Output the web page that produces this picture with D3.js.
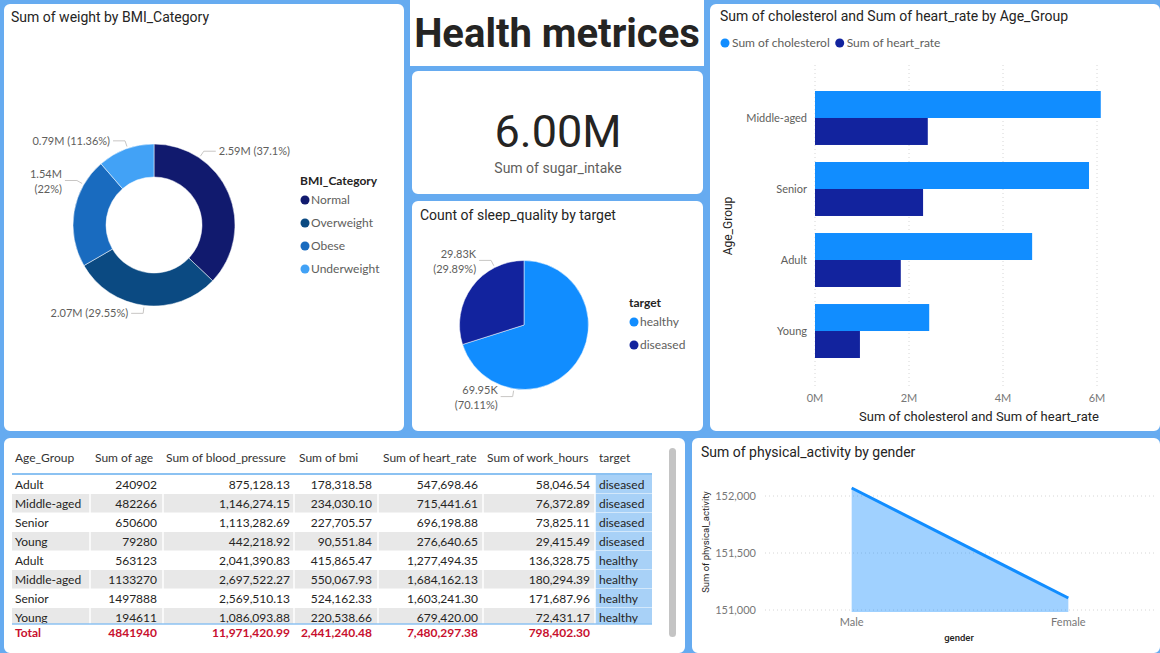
<!DOCTYPE html>
<html>
<head>
<meta charset="utf-8">
<script src="https://cdn.jsdelivr.net/npm/d3@7"></script>
<style>
  body { margin: 0; background: #0d2a4f; }
  svg { display: block; }
  text { font-family: Lato, "Noto Sans", sans-serif; }
  .title { font-family: Roboto, "Noto Sans", sans-serif; font-size: 14px; fill: #252423; }
</style>
</head>
<body>
<svg id="dash" width="1160" height="653"></svg>
<script>
"use strict";

// ---- data ----
const bmiCategories = ["Normal", "Overweight", "Obese", "Underweight"];
const bmiWeight = [2593500, 2065600, 1538000, 794100];

const targets = ["healthy", "diseased"];
const sleepCount = [69954, 29826];

const sugarIntake = 6.0e6;

const ageGroups = ["Middle-aged", "Senior", "Adult", "Young"];
const cholesterol = [6.08e6, 5.83e6, 4.62e6, 2.43e6];

const genders = ["Male", "Female"];
const physicalActivity = [152070, 151105];

const tableHeaders = ["Age_Group", "Sum of age", "Sum of blood_pressure", "Sum of bmi",
  "Sum of heart_rate", "Sum of work_hours", "target"];
const rowAgeGroup = ["Adult", "Middle-aged", "Senior", "Young", "Adult", "Middle-aged", "Senior", "Young"];
const rowAge = [240902, 482266, 650600, 79280, 563123, 1133270, 1497888, 194611];
const rowBloodPressure = [875128.13, 1146274.15, 1113282.69, 442218.92, 2041390.83, 2697522.27, 2569510.13, 1086093.88];
const rowBmi = [178318.58, 234030.10, 227705.57, 90551.84, 415865.47, 550067.93, 524162.33, 220538.66];
const rowHeartRate = [547698.46, 715441.61, 696198.88, 276640.65, 1277494.35, 1684162.13, 1603241.30, 679420.00];
const rowWorkHours = [58046.54, 76372.89, 73825.11, 29415.49, 136328.75, 180294.39, 171687.96, 72431.17];
const rowTarget = ["diseased", "diseased", "diseased", "diseased", "healthy", "healthy", "healthy", "healthy"];
const tableTotals = [4841940, 11971420.99, 2441240.48, 7480297.38, 798402.30];

// ---- styling ----
const bmiColors = ["#111a6e", "#0b4a82", "#196bbf", "#42a2f6"];
const targetColors = ["#118dff", "#12239e"];
const panelStroke = "#66abf0";
const labelGray = "#605e5c";
const leaderGray = "#c8c6c4";

const svg = d3.select("#dash");
svg.append("rect").attr("width", 1160).attr("height", 653).attr("fill", panelStroke);

function panel(x0, y0, x1, y1, stroke = true) {
  svg.append("rect")
    .attr("x", x0 + 2).attr("y", y0 + 2)
    .attr("width", x1 - x0 - 4).attr("height", y1 - y0 - 4)
    .attr("rx", 8)
    .attr("fill", "#fff")
    .attr("stroke", stroke ? panelStroke : "none")
    .attr("stroke-width", 4);
}

panel(0, 0, 408, 435);
panel(408, 67, 707, 198);
panel(408, 197, 707, 435);
panel(706, 0, 1164, 435);
panel(0, 434, 689, 657);
panel(688, 434, 1164, 657);
// the title block has no border of its own
svg.append("rect").attr("x", 410).attr("y", 0).attr("width", 294).attr("height", 66).attr("fill", "#fff");

function title(x, y, txt) {
  svg.append("text").attr("class", "title").attr("x", x).attr("y", y)
    .attr("dy", "0.35em").text(txt);
}

// Draws outside labels with a little elbow leader line, wrapping in two
// lines when the text does not fit.
function sliceLabels(g, arcs, outerR, angles, values, fmtVal, leftLimit, maxWidth) {
  const total = d3.sum(values);
  arcs.forEach((d, i) => {
    const a = angles[i] * Math.PI / 180;
    const p0 = [Math.sin(a) * (outerR + 2), -Math.cos(a) * (outerR + 2)];
    const p1 = [Math.sin(a) * (outerR + 8), -Math.cos(a) * (outerR + 8)];
    const dir = Math.sin(a) >= 0 ? 1 : -1;
    const p2 = [p1[0] + dir * 12, p1[1]];
    g.append("polyline")
      .attr("points", [p0, p1, p2].map(p => p.join(",")).join(" "))
      .attr("fill", "none").attr("stroke", leaderGray).attr("stroke-width", 1);

    const pct = d3.format(".2f")(values[i] / total * 100).replace(/\.?0+$/, "");
    const valTxt = fmtVal(values[i]);
    const t = g.append("text")
      .attr("x", p2[0] + dir * 3).attr("y", p2[1])
      .attr("text-anchor", dir > 0 ? "start" : "end")
      .attr("font-size", 11).attr("fill", labelGray)
      .attr("dy", "0.35em")
      .text(`${valTxt} (${pct}%)`);
    const avail = dir > 0 ? Infinity : (p2[0] - 3) - leftLimit;
    if (t.node().getComputedTextLength() > Math.min(avail, maxWidth)) {
      t.text(null).attr("dy", null);
      t.append("tspan").attr("x", p2[0] + dir * 3).attr("dy", "-0.25em").text(valTxt);
      t.append("tspan").attr("x", p2[0] + dir * 3).attr("dy", "1.35em").text(`(${pct}%)`);
    }
  });
}

function legend(x, y, heading, names, colors, step) {
  svg.append("text").attr("x", x).attr("y", y).attr("dy", "0.35em")
    .attr("font-size", 12).attr("font-weight", 700).attr("fill", "#252423").text(heading);
  const items = svg.append("g").selectAll("g").data(names).join("g")
    .attr("transform", (d, i) => `translate(${x + 5},${y + 19 + i * step})`);
  items.append("circle").attr("r", 4.5).attr("fill", (d, i) => colors[i]);
  items.append("text").attr("x", 6).attr("dy", "0.35em")
    .attr("font-size", 12).attr("fill", labelGray).text(d => d);
}

// ---- donut: weight by BMI category ----
title(11, 17, "Sum of weight by BMI_Category");
const donutG = svg.append("g").attr("transform", "translate(154,225)");
const donutArcs = d3.pie().sort(null).value(d => d)(bmiWeight);
donutG.selectAll("path").data(donutArcs).join("path")
  .attr("d", d3.arc().innerRadius(48).outerRadius(81))
  .attr("fill", (d, i) => bmiColors[i])
  .attr("stroke", "#fff").attr("stroke-width", 0.5);
sliceLabels(donutG, donutArcs, 81, [34, 187, 300, 341], bmiWeight,
  v => d3.format(".2f")(v / 1e6) + "M", 8 - 154, 90);
legend(300, 181, "BMI_Category", bmiCategories, bmiColors, 23);

// ---- header title ----
svg.append("text").attr("x", 557).attr("y", 33).attr("dy", "0.35em")
  .attr("text-anchor", "middle")
  .style("font-family", "Roboto, sans-serif").attr("font-size", 40).attr("font-weight", 700)
  .attr("fill", "#252423").text("Health metrices");

// ---- KPI card ----
svg.append("text").attr("x", 558).attr("y", 147).attr("text-anchor", "middle")
  .style("font-family", "Roboto, sans-serif").attr("font-size", 45).attr("fill", "#252423")
  .text(d3.format(".2f")(sugarIntake / 1e6) + "M");
svg.append("text").attr("x", 558).attr("y", 168).attr("dy", "0.35em").attr("text-anchor", "middle")
  .style("font-family", "Roboto, sans-serif").attr("font-size", 14).attr("fill", labelGray)
  .text("Sum of sugar_intake");

// ---- pie: sleep quality by target ----
title(420, 215, "Count of sleep_quality by target");
const pieG = svg.append("g").attr("transform", "translate(524,325)");
const pieArcs = d3.pie().sort(null).value(d => d)(sleepCount);
pieG.selectAll("path").data(pieArcs).join("path")
  .attr("d", d3.arc().innerRadius(0).outerRadius(64.5))
  .attr("fill", (d, i) => targetColors[i])
  .attr("stroke", "#fff").attr("stroke-width", 0.5);
sliceLabels(pieG, pieArcs, 64.5, [189, 333], sleepCount,
  v => d3.format(".2f")(v / 1e3) + "K", 412 - 524, 70);
legend(629, 303, "target", targets, targetColors, 23);

// ---- clustered bars: cholesterol and heart rate by age group ----
title(720, 16, "Sum of cholesterol and Sum of heart_rate by Age_Group");
const heartByGroup = d3.rollup(rowAgeGroup.map((g, i) => [g, rowHeartRate[i]]),
  v => d3.sum(v, d => d[1]), d => d[0]);
const heartRate = ageGroups.map(g => heartByGroup.get(g));
const barSeries = ["Sum of cholesterol", "Sum of heart_rate"];
const barValues = [cholesterol, heartRate];

const barLegend = svg.append("g").attr("transform", "translate(725,43)");
let lx = 0;
barSeries.forEach((s, i) => {
  barLegend.append("circle").attr("cx", lx).attr("r", 4.5).attr("fill", targetColors[i]);
  const t = barLegend.append("text").attr("x", lx + 7).attr("dy", "0.35em")
    .attr("font-size", 12).attr("fill", labelGray).text(s);
  lx += 7 + t.node().getComputedTextLength() + 10;
});

const xBar = d3.scaleLinear().domain([0, 6e6]).range([815, 1097]);
const yBand = d3.scaleBand().domain(ageGroups).range([80, 369]).paddingInner(0.24).paddingOuter(0.155);
const ySub = d3.scaleBand().domain([0, 1]).range([0, yBand.bandwidth()]);

const barTicks = xBar.ticks(3);
svg.append("g").selectAll("line").data(barTicks).join("line")
  .attr("x1", d => xBar(d)).attr("x2", d => xBar(d))
  .attr("y1", 65).attr("y2", 388)
  .attr("stroke", "#d6d6d6").attr("stroke-dasharray", "1,3");
svg.append("g").selectAll("text").data(barTicks).join("text")
  .attr("x", d => xBar(d)).attr("y", 398).attr("dy", "0.35em").attr("text-anchor", "middle")
  .attr("font-size", 11).attr("fill", "#777").text(d => d / 1e6 + "M");

barValues.forEach((vals, s) => {
  svg.append("g").selectAll("rect").data(vals).join("rect")
    .attr("x", xBar(0))
    .attr("y", (d, i) => yBand(ageGroups[i]) + ySub(s))
    .attr("width", d => xBar(d) - xBar(0))
    .attr("height", ySub.bandwidth())
    .attr("fill", targetColors[s]);
});
svg.append("g").selectAll("text").data(ageGroups).join("text")
  .attr("x", 807).attr("y", d => yBand(d) + yBand.bandwidth() / 2).attr("dy", "0.35em")
  .attr("text-anchor", "end").attr("font-size", 11).attr("fill", labelGray).text(d => d);
svg.append("text").attr("transform", "translate(728,226) rotate(-90)")
  .attr("dy", "0.35em").attr("text-anchor", "middle")
  .style("font-family", "Roboto, sans-serif").attr("font-size", 12).attr("fill", "#252423")
  .text("Age_Group");
svg.append("text").attr("x", 979).attr("y", 416).attr("dy", "0.35em").attr("text-anchor", "middle")
  .style("font-family", "Roboto, sans-serif").attr("font-size", 13).attr("fill", "#252423")
  .text("Sum of cholesterol and Sum of heart_rate");

// ---- table ----
const fmtNum = d3.format(",.2f");
const columns = [
  { vals: rowAgeGroup, fmt: d => d, anchor: "start", x: 15, left: 12 },
  { vals: rowAge, fmt: d => d, anchor: "end", x: 157, left: 90 },
  { vals: rowBloodPressure, fmt: fmtNum, anchor: "end", x: 290, left: 163 },
  { vals: rowBmi, fmt: fmtNum, anchor: "end", x: 372, left: 294 },
  { vals: rowHeartRate, fmt: fmtNum, anchor: "end", x: 478, left: 378 },
  { vals: rowWorkHours, fmt: fmtNum, anchor: "end", x: 590, left: 483 },
  { vals: rowTarget, fmt: d => d, anchor: "start", x: 599, left: 595 }
];
const headerX = [15, 95, 166, 299, 383, 487, 599];
const tableRight = 652, rowTop = 475, rowH = 19;

svg.append("defs").append("clipPath").attr("id", "rowsClip")
  .append("rect").attr("x", 0).attr("y", rowTop).attr("width", 700).attr("height", 624 - rowTop);

svg.append("g").selectAll("text").data(tableHeaders).join("text")
  .attr("x", (d, i) => headerX[i]).attr("y", 458).attr("dy", "0.35em")
  .attr("font-size", 12).attr("fill", "#333").text(d => d);

const rowsG = svg.append("g").attr("clip-path", "url(#rowsClip)");
rowAgeGroup.forEach((g, r) => {
  const y = rowTop + r * rowH;
  rowsG.append("rect").attr("x", 12).attr("y", y).attr("width", tableRight - 12).attr("height", rowH)
    .attr("fill", r % 2 ? "#e8e8e8" : "#fff");
  rowsG.append("rect").attr("x", 595).attr("y", y).attr("width", tableRight - 595).attr("height", rowH)
    .attr("fill", "#a8d1f7");
  rowsG.append("line").attr("x1", 12).attr("x2", tableRight).attr("y1", y + rowH).attr("y2", y + rowH)
    .attr("stroke", "#fff").attr("stroke-width", 1);
  columns.forEach(c => {
    rowsG.append("text").attr("x", c.x).attr("y", y + rowH / 2).attr("dy", "0.35em")
      .attr("text-anchor", c.anchor).attr("font-size", 12).attr("fill", "#252423")
      .text(c.fmt(c.vals[r]));
  });
});
columns.slice(1).forEach(c => {
  rowsG.append("line").attr("x1", c.left).attr("x2", c.left).attr("y1", rowTop).attr("y2", 624)
    .attr("stroke", "#fff").attr("stroke-width", 1.5);
});
svg.append("line").attr("x1", 12).attr("x2", tableRight).attr("y1", 474).attr("y2", 474)
  .attr("stroke", "#8cc2f2").attr("stroke-width", 2);
svg.append("line").attr("x1", 12).attr("x2", tableRight).attr("y1", 624).attr("y2", 624)
  .attr("stroke", "#8cc2f2").attr("stroke-width", 1.5);

svg.append("text").attr("x", 15).attr("y", 633).attr("dy", "0.35em")
  .attr("font-size", 12).attr("font-weight", 700).attr("fill", "#c8102e").text("Total");
tableTotals.forEach((t, i) => {
  const c = columns[i + 1];
  svg.append("text").attr("x", c.x).attr("y", 633).attr("dy", "0.35em").attr("text-anchor", "end")
    .attr("font-size", 12).attr("font-weight", 700).attr("fill", "#c8102e")
    .text(c.fmt(t));
});
// scrollbar
svg.append("rect").attr("x", 669).attr("y", 448).attr("width", 7).attr("height", 189)
  .attr("rx", 3.5).attr("fill", "#c4c4c4");

// ---- area: physical activity by gender ----
title(701, 452, "Sum of physical_activity by gender");
const xArea = d3.scalePoint().domain(genders).range([765, 1155]).padding(0.4);
const yArea = d3.scaleLinear().domain([151000, 152000]).range([610, 496]);
const areaTicks = yArea.ticks(2);
svg.append("g").selectAll("line").data(areaTicks).join("line")
  .attr("x1", 765).attr("x2", 1155).attr("y1", d => yArea(d)).attr("y2", d => yArea(d))
  .attr("stroke", "#d6d6d6").attr("stroke-dasharray", "1,3");
svg.append("g").selectAll("text").data(areaTicks).join("text")
  .attr("x", 756).attr("y", d => yArea(d)).attr("dy", "0.35em").attr("text-anchor", "end")
  .attr("font-size", 11).attr("fill", "#777").text(d3.format(","));
const areaPts = genders.map((g, i) => [g, physicalActivity[i]]);
svg.append("path").datum(areaPts)
  .attr("d", d3.area().x(d => xArea(d[0])).y0(yArea(151000) + 2).y1(d => yArea(d[1])))
  .attr("fill", "#118dff").attr("fill-opacity", 0.4);
svg.append("path").datum(areaPts)
  .attr("d", d3.line().x(d => xArea(d[0])).y(d => yArea(d[1])))
  .attr("fill", "none").attr("stroke", "#118dff").attr("stroke-width", 3);
svg.append("g").selectAll("text").data(genders).join("text")
  .attr("x", d => xArea(d)).attr("y", 622).attr("dy", "0.35em").attr("text-anchor", "middle")
  .attr("font-size", 11).attr("fill", "#777").text(d => d);
svg.append("text").attr("x", 959).attr("y", 638).attr("dy", "0.35em").attr("text-anchor", "middle")
  .style("font-family", "Roboto, sans-serif").attr("font-size", 9.5).attr("font-weight", 500)
  .attr("fill", "#252423").text("gender");
svg.append("text").attr("transform", "translate(706,542) rotate(-90)")
  .attr("dy", "0.35em").attr("text-anchor", "middle")
  .style("font-family", "Roboto, sans-serif").attr("font-size", 9.5).attr("fill", "#252423")
  .text("Sum of physical_activity");
</script>
</body>
</html>
